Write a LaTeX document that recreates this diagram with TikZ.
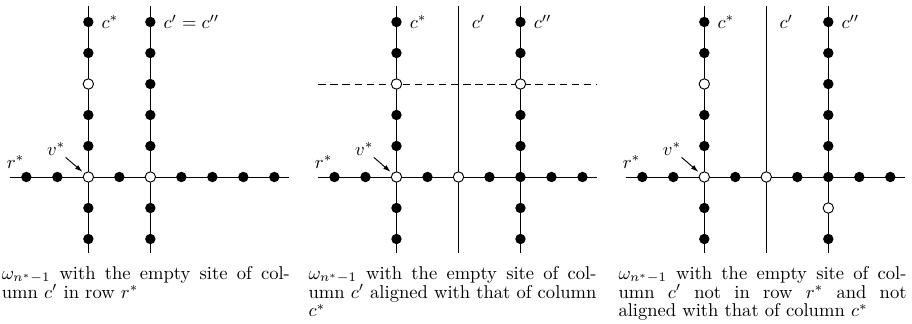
\documentclass[tikz,border=0pt]{standalone}
\usepackage{amsmath}
\usetikzlibrary{arrows.meta,positioning}

\begin{document}
\begin{tikzpicture}[
    x=0.5871cm,y=0.5871cm,
    site/.style={circle, fill=black, inner sep=0pt, minimum size=5.6pt},
    hole/.style={circle, draw=black, fill=white, inner sep=0pt, minimum size=5.6pt, line width=0.5pt},
    line/.style={line width=0.5pt},
    guide/.style={line width=0.5pt, dash pattern=on 4pt off 2.5pt},
    arrow/.style={-{Latex[length=4pt,width=2.6pt]}, line width=0.5pt, shorten >=1.2pt},
    lab/.style={anchor=west, inner sep=0pt},
    vlab/.style={inner sep=0.8pt},
    caption/.style={anchor=north west, inner sep=0pt, text width=155.2pt, align=justify,
                    font=\fontsize{10}{10.2}\selectfont}
]
\useasboundingbox (0,0) rectangle (29.42,10.42);

% first panel: empty site of c' in row r*
\begin{scope}[shift={(2.85,4.71)}]
\coordinate (a-w) at (-2.52,0);
\coordinate (a-e) at (6.48,0);
\coordinate (a-st) at (0,5.52);
\coordinate (a-sb) at (0,-2.45);
\coordinate (a-pt) at (2,5.52);
\coordinate (a-pb) at (2,-2.45);
\draw[line] (a-w) -- (a-e);
\draw[line] (a-sb) -- (a-st);
\draw[line] (a-pb) -- (a-pt);
\foreach \y in {-2,-1,1,2,4,5} \node[site] (a-s\y) at (0,\y) {};
\node[hole] (a-s3) at (0,3) {};
\node[hole] (a-s0) at (0,0) {};
\foreach \y in {-2,-1,1,2,3,4,5} \node[site] (a-p\y) at (2,\y) {};
\node[hole] (a-p0) at (2,0) {};
\foreach \x in {-2,-1,1,3,4,5,6} \node[site] (a-r\x) at (\x,0) {};
\node[lab, right=7pt of a-s5.center] (a-cs) {$c^*$};
\node[lab, right=7pt of a-p5.center] (a-cp) {$c' = c''$};
\node (a-row) at (-2.35,0.48) {$r^*$};
\node[vlab] (a-v) at (-1.04,0.9) {$v^*$};
\draw[arrow] (a-v) -- (a-s0);
\node[caption] (a-cap) at (-2.8,-2.86)
  {$\omega_{n^*-1}$ with the empty site of col-\linebreak umn $c'$ in row $r^*$};
\end{scope}

% second panel: aligned with the empty site of c*
\begin{scope}[shift={(12.79,4.71)}]
\coordinate (b-w) at (-2.52,0);
\coordinate (b-e) at (6.48,0);
\coordinate (b-dw) at (-2.52,3);
\coordinate (b-de) at (6.48,3);
\coordinate (b-st) at (0,5.52);
\coordinate (b-sb) at (0,-2.45);
\coordinate (b-pt) at (2,5.52);
\coordinate (b-pb) at (2,-2.45);
\coordinate (b-qt) at (4,5.52);
\coordinate (b-qb) at (4,-2.45);
\coordinate (b-p5) at (2,5);
\draw[line] (b-w) -- (b-e);
\draw[guide] (b-dw) -- (b-de);
\draw[line] (b-sb) -- (b-st);
\draw[line] (b-pb) -- (b-pt);
\draw[line] (b-qb) -- (b-qt);
\foreach \y in {-2,-1,1,2,4,5} \node[site] (b-s\y) at (0,\y) {};
\node[hole] (b-s3) at (0,3) {};
\node[hole] (b-s0) at (0,0) {};
\node[hole] (b-p0) at (2,0) {};
\foreach \y in {-2,-1,0,1,2,4,5} \node[site] (b-q\y) at (4,\y) {};
\node[hole] (b-q3) at (4,3) {};
\foreach \x in {-2,-1,1,3,5,6} \node[site] (b-r\x) at (\x,0) {};
\node[lab, right=7pt of b-s5.center] (b-cs) {$c^*$};
\node[lab, right=7pt of b-p5] (b-cp) {$c'$};
\node[lab, right=7pt of b-q5.center] (b-cq) {$c''$};
\node (b-row) at (-2.35,0.48) {$r^*$};
\node[vlab] (b-v) at (-1.04,0.9) {$v^*$};
\draw[arrow] (b-v) -- (b-s0);
\node[caption] (b-cap) at (-2.85,-2.86)
  {$\omega_{n^*-1}$ with the empty site of col-\linebreak umn $c'$ aligned with that of column\linebreak $c^*$};
\end{scope}

% third panel: neither in row r* nor aligned
\begin{scope}[shift={(22.72,4.71)}]
\coordinate (c-w) at (-2.52,0);
\coordinate (c-e) at (6.48,0);
\coordinate (c-st) at (0,5.52);
\coordinate (c-sb) at (0,-2.45);
\coordinate (c-pt) at (2,5.52);
\coordinate (c-pb) at (2,-2.45);
\coordinate (c-qt) at (4,5.52);
\coordinate (c-qb) at (4,-2.45);
\coordinate (c-p5) at (2,5);
\draw[line] (c-w) -- (c-e);
\draw[line] (c-sb) -- (c-st);
\draw[line] (c-pb) -- (c-pt);
\draw[line] (c-qb) -- (c-qt);
\foreach \y in {-2,-1,1,2,4,5} \node[site] (c-s\y) at (0,\y) {};
\node[hole] (c-s3) at (0,3) {};
\node[hole] (c-s0) at (0,0) {};
\node[hole] (c-p0) at (2,0) {};
\foreach \y in {-2,0,1,2,3,4,5} \node[site] (c-q\y) at (4,\y) {};
\node[hole] (c-q-1) at (4,-1) {};
\foreach \x in {-2,-1,1,3,5,6} \node[site] (c-r\x) at (\x,0) {};
\node[lab, right=7pt of c-s5.center] (c-cs) {$c^*$};
\node[lab, right=7pt of c-p5] (c-cp) {$c'$};
\node[lab, right=7pt of c-q5.center] (c-cq) {$c''$};
\node (c-row) at (-2.35,0.48) {$r^*$};
\node[vlab] (c-v) at (-1.04,0.9) {$v^*$};
\draw[arrow] (c-v) -- (c-s0);
\node[caption] (c-cap) at (-2.78,-2.86)
  {\parfillskip=0pt $\omega_{n^*-1}$ with the empty site of col-\linebreak umn $c'$ not in row $r^*$ and not\linebreak aligned with that of column $c^*$};
\end{scope}
\end{tikzpicture}
\end{document}
